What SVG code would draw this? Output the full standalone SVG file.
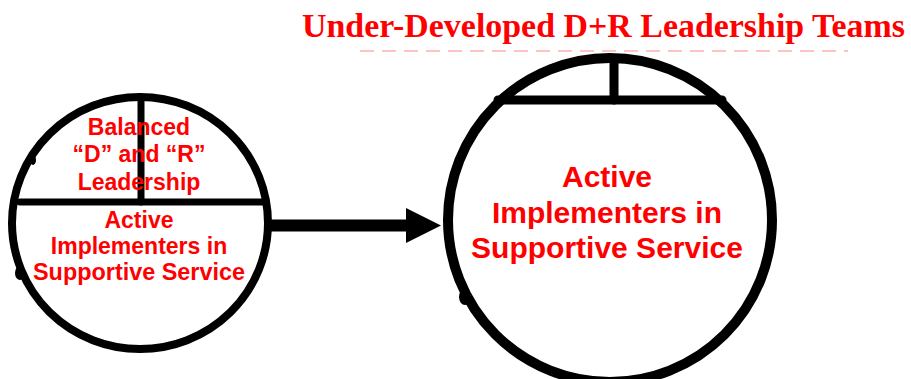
<svg xmlns="http://www.w3.org/2000/svg" width="911" height="379" viewBox="0 0 911 379">
<style>
.ring{fill:none;stroke:#000;stroke-linecap:round}
.lbl{font-family:"Liberation Sans",Arial,sans-serif;font-weight:bold;fill:#ff0000;text-anchor:middle}
.title{font-family:"Liberation Serif","Times New Roman",serif;font-weight:bold;fill:#ff0000;font-size:34px}
</style>
<rect width="911" height="379" fill="#fff"/>
<text class="title" x="302" y="37" textLength="603" lengthAdjust="spacingAndGlyphs">Under-Developed D+R Leadership Teams</text>
<line x1="360" y1="51" x2="848" y2="51" stroke="#ffb0b0" stroke-width="1.5" stroke-dasharray="14 8"/>
<g id="left-team">
<ellipse class="ring" cx="140" cy="223" rx="128" ry="126" stroke-width="8"/>
<line class="ring" x1="20" y1="202" x2="264" y2="202" stroke-width="7"/>
<line class="ring" x1="141" y1="98" x2="141" y2="202" stroke-width="7"/>
<ellipse cx="20" cy="273" rx="5" ry="7" fill="#000"/>
<ellipse cx="33" cy="160" rx="3" ry="5" fill="#000"/>
<text class="lbl" font-size="23" x="139" y="135">Balanced</text>
<text class="lbl" font-size="23" x="139" y="162">“D” and “R”</text>
<text class="lbl" font-size="23" x="139" y="190">Leadership</text>
<text class="lbl" font-size="23" x="139" y="228">Active</text>
<text class="lbl" font-size="23" x="139" y="254">Implementers in</text>
<text class="lbl" font-size="23" x="139" y="280" textLength="212" lengthAdjust="spacingAndGlyphs">Supportive Service</text>
</g>
<g id="connectors">
<line x1="268" y1="225.5" x2="408" y2="225.5" stroke="#000" stroke-width="12"/>
<polygon points="406,208 441,225.5 406,243" fill="#000"/>
</g>
<g id="right-team">
<circle class="ring" cx="610" cy="220" r="162" stroke-width="10"/>
<line class="ring" x1="498" y1="100" x2="722" y2="100" stroke-width="9"/>
<line class="ring" x1="614" y1="60" x2="614" y2="100" stroke-width="9"/>
<ellipse cx="465" cy="297" rx="6" ry="8" fill="#000"/>
<text class="lbl" font-size="30" x="607" y="187">Active</text>
<text class="lbl" font-size="30" x="607" y="223">Implementers in</text>
<text class="lbl" font-size="30" x="607" y="258">Supportive Service</text>
</g>
</svg>
